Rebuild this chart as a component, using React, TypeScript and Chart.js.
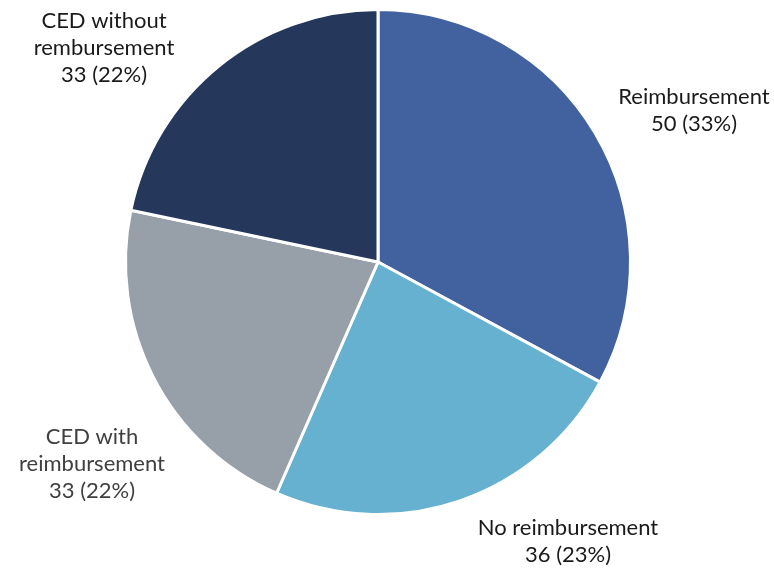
import React, { useEffect, useRef } from "react";
import { Chart, registerables } from "chart.js";

Chart.register(...registerables);

const categories = ["Reimbursement", "No reimbursement", "CED with reimbursement", "CED without rembursement"];
const values = [50, 36, 33, 33];
const percentLabels = ["33%", "23%", "22%", "22%"];
const labelLines = [
  ["Reimbursement"],
  ["No reimbursement"],
  ["CED with", "reimbursement"],
  ["CED without", "rembursement"],
];
const colors = ["#41619F", "#65B1CF", "#979FA8", "#25385B"];
const textColors = ["#1a1a1a", "#1a1a1a", "#404040", "#1a1a1a"];
// label anchor (center x, first line y)
const labelPos = [
  [694, 97],
  [568, 528],
  [92, 437],
  [104, 21],
];

const labelPlugin = {
  id: "outerLabels",
  afterDraw(chart: any) {
    const ctx = chart.ctx;
    ctx.save();
    ctx.font = "22px Lato";
    ctx.textAlign = "center";
    ctx.textBaseline = "middle";
    values.forEach((v, i) => {
      const lines = [...labelLines[i], `${v} (${percentLabels[i]})`];
      ctx.fillStyle = textColors[i];
      const [x, y] = labelPos[i];
      lines.forEach((l, j) => ctx.fillText(l, x, y + j * 27));
    });
    ctx.restore();
  },
};

export default function App() {
  const ref = useRef<HTMLCanvasElement>(null);
  useEffect(() => {
    document.body.style.margin = "0";
    const chart = new Chart(ref.current!, {
      type: "pie",
      data: {
        labels: categories,
        datasets: [
          {
            data: values,
            backgroundColor: colors,
            borderColor: "#ffffff",
            borderWidth: 3,
          },
        ],
      },
      options: {
        animation: false,
        responsive: false,
        maintainAspectRatio: false,
        layout: { padding: { left: 124, right: 142, top: 8, bottom: 52 } },
        plugins: { legend: { display: false }, tooltip: { enabled: false } },
      },
      plugins: [labelPlugin],
    });
    return () => chart.destroy();
  }, []);
  return (
    <div style={{ width: 774, height: 568, background: "#fff" }}>
      <canvas ref={ref} width={774} height={568} style={{ width: 774, height: 568 }} />
    </div>
  );
}
